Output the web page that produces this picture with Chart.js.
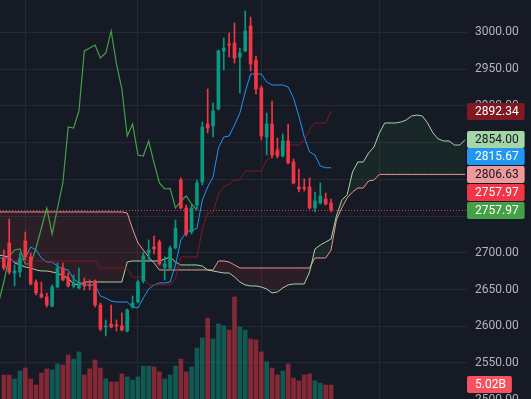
<!DOCTYPE html>
<html>
<head>
<meta charset="utf-8">
<title>Ichimoku</title>
<script src="https://cdn.jsdelivr.net/npm/chart.js@4.4.1/dist/chart.umd.min.js"></script>
<style>
    html, body { margin: 0; padding: 0; background: #161a25; overflow: hidden; }
    #box { position: relative; width: 531px; height: 399px; }
</style>
</head>
<body>
<div id="box"><canvas id="chart"></canvas></div>
<script>
// candles, oldest first (bar 0 .. 61)
var opens = [2692.9, 2713.3, 2672.5, 2673.8, 2716.0, 2694.3, 2660.2, 2643.9, 2639.8, 2627.6,
    2653.4, 2679.3, 2665.7, 2654.8, 2652.1, 2658.9, 2656.2, 2661.6, 2628.9, 2599.0,
    2603.1, 2601.7, 2600.4, 2593.6, 2626.2, 2633.0, 2661.6, 2699.7, 2707.9, 2714.7,
    2680.6, 2679.3, 2706.5, 2799.0, 2760.9, 2728.3, 2765.0, 2796.3, 2875.2, 2872.5,
    2895.6, 2974.6, 2984.1, 2985.4, 2966.4, 2974.6, 3008.6, 2962.3, 2924.2, 2857.5,
    2875.2, 2839.8, 2831.7, 2852.1, 2823.5, 2789.5, 2788.8, 2789.5, 2760.9, 2767.7,
    2773.2, 2767.7];
var highs = [2703.8, 2746.0, 2683.4, 2699.7, 2728.3, 2699.7, 2663.0, 2660.2, 2645.3, 2656.2,
    2686.1, 2686.1, 2672.5, 2669.8, 2679.3, 2665.7, 2663.0, 2663.0, 2631.7, 2608.5,
    2628.9, 2608.5, 2618.1, 2623.5, 2641.2, 2663.0, 2701.1, 2717.4, 2722.8, 2717.4,
    2694.3, 2709.2, 2744.6, 2801.8, 2765.0, 2765.0, 2799.0, 2877.9, 2922.9, 2903.8,
    2975.9, 2992.2, 2999.0, 3012.7, 2978.6, 3029.0, 3020.8, 2967.8, 2926.9, 2890.2,
    2906.5, 2856.2, 2861.6, 2875.2, 2827.6, 2814.0, 2800.4, 2801.8, 2782.7, 2794.9,
    2781.3, 2773.2];
var lows = [2676.6, 2671.1, 2654.8, 2667.0, 2690.2, 2656.2, 2642.5, 2638.5, 2626.2, 2626.2,
    2652.1, 2661.6, 2653.4, 2652.1, 2650.7, 2649.4, 2649.4, 2626.2, 2593.6, 2586.8,
    2597.6, 2593.6, 2593.6, 2592.2, 2624.9, 2631.7, 2658.9, 2688.8, 2698.3, 2683.4,
    2663.0, 2677.9, 2705.1, 2759.6, 2722.8, 2725.6, 2759.6, 2792.2, 2863.0, 2857.5,
    2894.3, 2948.7, 2966.4, 2958.2, 2917.4, 2973.2, 2947.3, 2916.0, 2853.5, 2833.0,
    2829.0, 2829.0, 2830.3, 2820.8, 2793.6, 2782.7, 2784.1, 2759.6, 2755.5, 2766.4,
    2765.0, 2755.5];
var closes = [2679.3, 2673.8, 2675.2, 2692.9, 2694.3, 2657.5, 2645.3, 2639.8, 2628.9, 2653.4,
    2679.3, 2663.0, 2654.8, 2658.9, 2660.2, 2654.8, 2654.8, 2628.9, 2596.3, 2600.4,
    2599.0, 2600.4, 2594.9, 2622.1, 2631.7, 2660.2, 2695.6, 2703.8, 2705.1, 2684.7,
    2684.7, 2706.5, 2733.7, 2760.9, 2725.6, 2760.9, 2794.9, 2871.1, 2869.8, 2892.9,
    2974.6, 2978.6, 2982.7, 2965.0, 2971.8, 3001.8, 2956.9, 2922.9, 2858.9, 2875.2,
    2833.0, 2831.7, 2852.1, 2822.2, 2794.9, 2786.8, 2787.5, 2760.9, 2770.5, 2777.3,
    2766.4, 2757.97];
// volume in billions
var volumes = [8.6, 8.6, 7.2, 10.0, 11.1, 7.2, 5.0, 9.3, 10.8, 10.4,
    12.6, 12.2, 15.8, 14.3, 16.9, 8.6, 10.8, 14.0, 11.1, 7.2,
    6.1, 6.1, 9.0, 7.9, 6.8, 7.9, 11.8, 11.8, 11.5, 9.7,
    7.2, 8.6, 11.8, 14.3, 9.7, 11.5, 18.3, 21.9, 29.0, 21.5,
    26.9, 26.2, 24.7, 36.6, 25.8, 24.7, 21.5, 21.2, 16.9, 13.3,
    11.1, 8.6, 10.0, 12.6, 7.5, 6.5, 8.6, 9.0, 6.5, 5.7,
    5.02, 5.02];

// ichimoku lines, first value sits on bar -1
var tenkan = [2692.9,
    2692.9, 2692.9, 2687.4, 2687.4, 2692.9, 2707.9, 2703.8, 2692.9, 2687.4, 2687.4,
    2682.0, 2677.9, 2676.6, 2664.3, 2658.9, 2656.2, 2656.2, 2656.2, 2641.2, 2638.5,
    2634.4, 2633.0, 2633.0, 2633.0, 2626.2, 2624.9, 2638.5, 2650.7, 2656.2, 2658.9,
    2658.9, 2660.2, 2683.4, 2717.4, 2728.3, 2731.0, 2733.0, 2771.8, 2789.5, 2803.1,
    2842.6, 2857.5, 2858.9, 2873.9, 2890.2, 2918.8, 2943.2, 2943.2, 2943.2, 2932.4,
    2928.3, 2928.3, 2928.3, 2925.6, 2910.6, 2886.1, 2857.5, 2837.1, 2833.0, 2818.1,
    2815.67, 2815.67];
var kijun = [2688.8,
    2688.8, 2688.8, 2688.8, 2688.8, 2688.8, 2688.8, 2688.8, 2688.8, 2688.8, 2688.8,
    2688.8, 2688.8, 2688.8, 2688.8, 2688.8, 2688.8, 2688.8, 2688.8, 2679.3, 2679.3,
    2679.3, 2679.3, 2679.3, 2679.3, 2667.0, 2667.0, 2667.0, 2656.2, 2656.2, 2656.2,
    2656.2, 2656.2, 2665.7, 2694.3, 2694.3, 2694.3, 2694.3, 2732.4, 2754.1, 2754.1,
    2780.0, 2789.5, 2793.6, 2799.0, 2799.0, 2811.3, 2811.3, 2811.3, 2811.3, 2826.2,
    2830.3, 2839.8, 2843.9, 2846.6, 2846.6, 2846.6, 2853.5, 2867.0, 2876.6, 2876.6,
    2876.6, 2892.34];
var senkouA = [2697.0,
    2695.6, 2694.3, 2686.1, 2683.4, 2680.6, 2679.3, 2676.6, 2675.2, 2675.2, 2673.8,
    2672.5, 2668.4, 2665.7, 2657.5, 2656.2, 2660.2, 2660.2, 2660.2, 2660.2, 2660.2,
    2660.2, 2660.2, 2660.2, 2687.4, 2688.8, 2688.8, 2688.8, 2688.8, 2688.8, 2688.8,
    2691.5, 2694.3, 2687.4, 2683.4, 2683.4, 2683.4, 2683.4, 2682.0, 2676.6, 2675.2,
    2673.8, 2672.5, 2672.5, 2667.0, 2660.2, 2656.2, 2654.8, 2654.8, 2653.4, 2650.7,
    2645.3, 2646.6, 2652.1, 2656.2, 2657.5, 2657.5, 2657.5, 2673.8, 2705.1, 2710.6,
    2714.7, 2718.7, 2750.0, 2771.8, 2778.6, 2809.9, 2823.5, 2823.5, 2835.8, 2843.9,
    2863.0, 2876.6, 2876.6, 2876.6, 2877.9, 2880.6, 2886.1, 2887.4, 2886.1, 2876.6,
    2863.0, 2854.8, 2852.1, 2852.1, 2846.6, 2846.6, 2854.0];
var senkouB = [2755.5,
    2755.5, 2755.5, 2755.5, 2755.5, 2755.5, 2755.5, 2755.5, 2755.5, 2755.5, 2755.5,
    2755.5, 2755.5, 2755.5, 2755.5, 2755.5, 2755.5, 2755.5, 2755.5, 2755.5, 2755.5,
    2755.5, 2755.5, 2755.5, 2754.1, 2732.4, 2713.3, 2703.8, 2694.3, 2686.1, 2676.6,
    2676.6, 2676.6, 2676.6, 2676.6, 2676.6, 2676.6, 2676.6, 2676.6, 2676.6, 2676.6,
    2688.8, 2688.8, 2687.4, 2683.4, 2679.3, 2679.3, 2679.3, 2679.3, 2679.3, 2679.3,
    2679.3, 2679.3, 2679.3, 2679.3, 2679.3, 2679.3, 2679.3, 2679.3, 2692.9, 2692.9,
    2692.9, 2703.8, 2744.6, 2761.0, 2774.5, 2782.7, 2788.1, 2788.1, 2797.7, 2799.0,
    2806.63, 2806.63, 2806.63, 2806.63, 2806.63, 2806.63, 2806.63, 2806.63, 2806.63, 2806.63,
    2806.63, 2806.63, 2806.63, 2806.63, 2806.63, 2806.63, 2806.63];

var priceTicks = [2500, 2550, 2600, 2650, 2700, 2750, 2800, 2850, 2900, 2950, 3000];
var timeGrid = [4, 25, 48, 70];
var lineStart = -1;
var lagShift = 25;

var upColor = '#089981';
var downColor = '#f23645';
var gridColor = '#252935';
var axisText = '#b2b5be';

function points(arr, start){
    var out = [];
    for (var i = 0; i < arr.length; i++) {
        out.push({x: start + i, y: arr[i]});
    }
    return out;
}

var bodies = [], wicks = [], vols = [], candleColors = [], volColors = [];
for (var i = 0; i < closes.length; i++) {
    var up = closes[i] >= opens[i];
    bodies.push({x: i, y: [opens[i], closes[i]]});
    wicks.push({x: i, y: [lows[i], highs[i]]});
    vols.push({x: i, y: volumes[i]});
    candleColors.push(up ? upColor : downColor);
    volColors.push(up ? 'rgba(8,153,129,0.5)' : 'rgba(242,54,69,0.5)');
}

function lineSet(label, data, color, width, order){
    return {
        type: 'line',
        label: label,
        data: data,
        borderColor: color,
        borderWidth: width,
        pointRadius: 0,
        tension: 0,
        fill: false,
        order: order
    };
}

var cloudA = lineSet('Leading Span A', points(senkouA, lineStart), '#a5d6a7', 1, 6);
cloudA.fill = {target: 2, above: 'rgba(67,160,71,0.1)', below: 'rgba(244,67,54,0.1)'};

function tag(ctx, y, text, bg, fg, left){
    ctx.font = '12px Roboto';
    var w = ctx.measureText(text).width;
    ctx.fillStyle = bg;
    ctx.beginPath();
    ctx.roundRect(left, Math.round(y - 8.5), w + 14, 17, 2);
    ctx.fill();
    ctx.fillStyle = fg;
    ctx.textAlign = 'left';
    ctx.textBaseline = 'middle';
    ctx.fillText(text, left + 8, y + 0.5);
}

var overlay = {
    id: 'overlay',
    afterDraw: function(chart){
        var ctx = chart.ctx;
        var area = chart.chartArea;
        var ys = chart.scales.y;
        var yv = chart.scales.yv;
        var last = closes.length - 1;

        var py = Math.round(ys.getPixelForValue(closes[last])) + 0.5;
        ctx.save();
        ctx.strokeStyle = downColor;
        ctx.lineWidth = 1;
        ctx.setLineDash([1, 2]);
        ctx.beginPath();
        ctx.moveTo(area.left, py);
        ctx.lineTo(area.right, py);
        ctx.stroke();
        ctx.setLineDash([]);

        var tags = [
            {v: kijun[kijun.length - 1], bg: '#801922', fg: '#ffffff'},
            {v: senkouA[senkouA.length - 1], bg: '#a5d6a7', fg: '#131722'},
            {v: tenkan[tenkan.length - 1], bg: '#2196f3', fg: '#ffffff'},
            {v: senkouB[senkouB.length - 1], bg: '#ef9a9a', fg: '#131722'},
            {v: closes[last], bg: downColor, fg: '#ffffff'},
            {v: closes[last], bg: '#43a047', fg: '#ffffff'}
        ];
        tags.forEach(function(t){ t.y = ys.getPixelForValue(t.v); });
        // stack from the bottom up so boxes do not overlap
        var prev = Infinity;
        for (var k = tags.length - 1; k >= 0; k--) {
            tags[k].y = Math.min(tags[k].y, prev - 17.5);
            prev = tags[k].y;
        }
        tags.forEach(function(t){
            tag(ctx, t.y, t.v.toFixed(2), t.bg, t.fg, area.right);
        });

        tag(ctx, yv.getPixelForValue(volumes[last]) - 0.5, volumes[last].toFixed(2) + 'B', '#f7525f', '#ffffff', area.right);
        ctx.restore();
    }
};

var ctx = document.getElementById('chart').getContext('2d');
var chart = new Chart(ctx, {
    type: 'bar',
    data: {
        datasets: [
            {label: 'Volume', data: vols, backgroundColor: volColors, barThickness: 4, yAxisID: 'yv', grouped: false, order: 10},
            cloudA,
            lineSet('Leading Span B', points(senkouB, lineStart), '#ef9a9a', 1, 6),
            lineSet('Base Line', points(kijun, lineStart), '#801922', 1, 5),
            lineSet('Conversion Line', points(tenkan, lineStart), '#2196f3', 1, 5),
            lineSet('Lagging Span', points(closes, -lagShift), '#43a047', 1.2, 5),
            {label: 'Wick', data: wicks, backgroundColor: candleColors, barThickness: 1, grouped: false, order: 2},
            {label: 'Body', data: bodies, backgroundColor: candleColors, barThickness: 3, minBarLength: 1, grouped: false, order: 1}
        ]
    },
    options: {
        responsive: true,
        maintainAspectRatio: false,
        animation: false,
        devicePixelRatio: 1,
        layout: {padding: 0},
        plugins: {
            legend: {display: false},
            tooltip: {enabled: false}
        },
        scales: {
            x: {
                type: 'linear',
                min: -3.85 / 5.364,
                max: (467 - 3.85) / 5.364,
                offset: false,
                grid: {color: gridColor, drawTicks: false, offset: false},
                border: {display: false},
                ticks: {display: false},
                afterBuildTicks: function(scale){
                    scale.ticks = timeGrid.map(function(v){ return {value: v}; });
                },
                afterFit: function(scale){
                    scale.height = 0;
                    scale.paddingLeft = 0;
                    scale.paddingRight = 0;
                }
            },
            y: {
                position: 'right',
                min: 2501.0,
                max: 3043.95,
                grid: {color: gridColor, drawTicks: false},
                border: {display: false},
                ticks: {
                    color: axisText,
                    padding: 8,
                    font: {family: 'Roboto', size: 12},
                    callback: function(v){ return Number(v).toFixed(2); }
                },
                afterBuildTicks: function(scale){
                    scale.ticks = priceTicks.map(function(v){ return {value: v}; });
                },
                afterFit: function(scale){
                    scale.width = 64;
                    scale.paddingTop = 0;
                    scale.paddingBottom = 0;
                }
            },
            yv: {
                display: false,
                min: 0,
                max: 143.1
            }
        }
    },
    plugins: [overlay]
});
</script>
</body>
</html>
